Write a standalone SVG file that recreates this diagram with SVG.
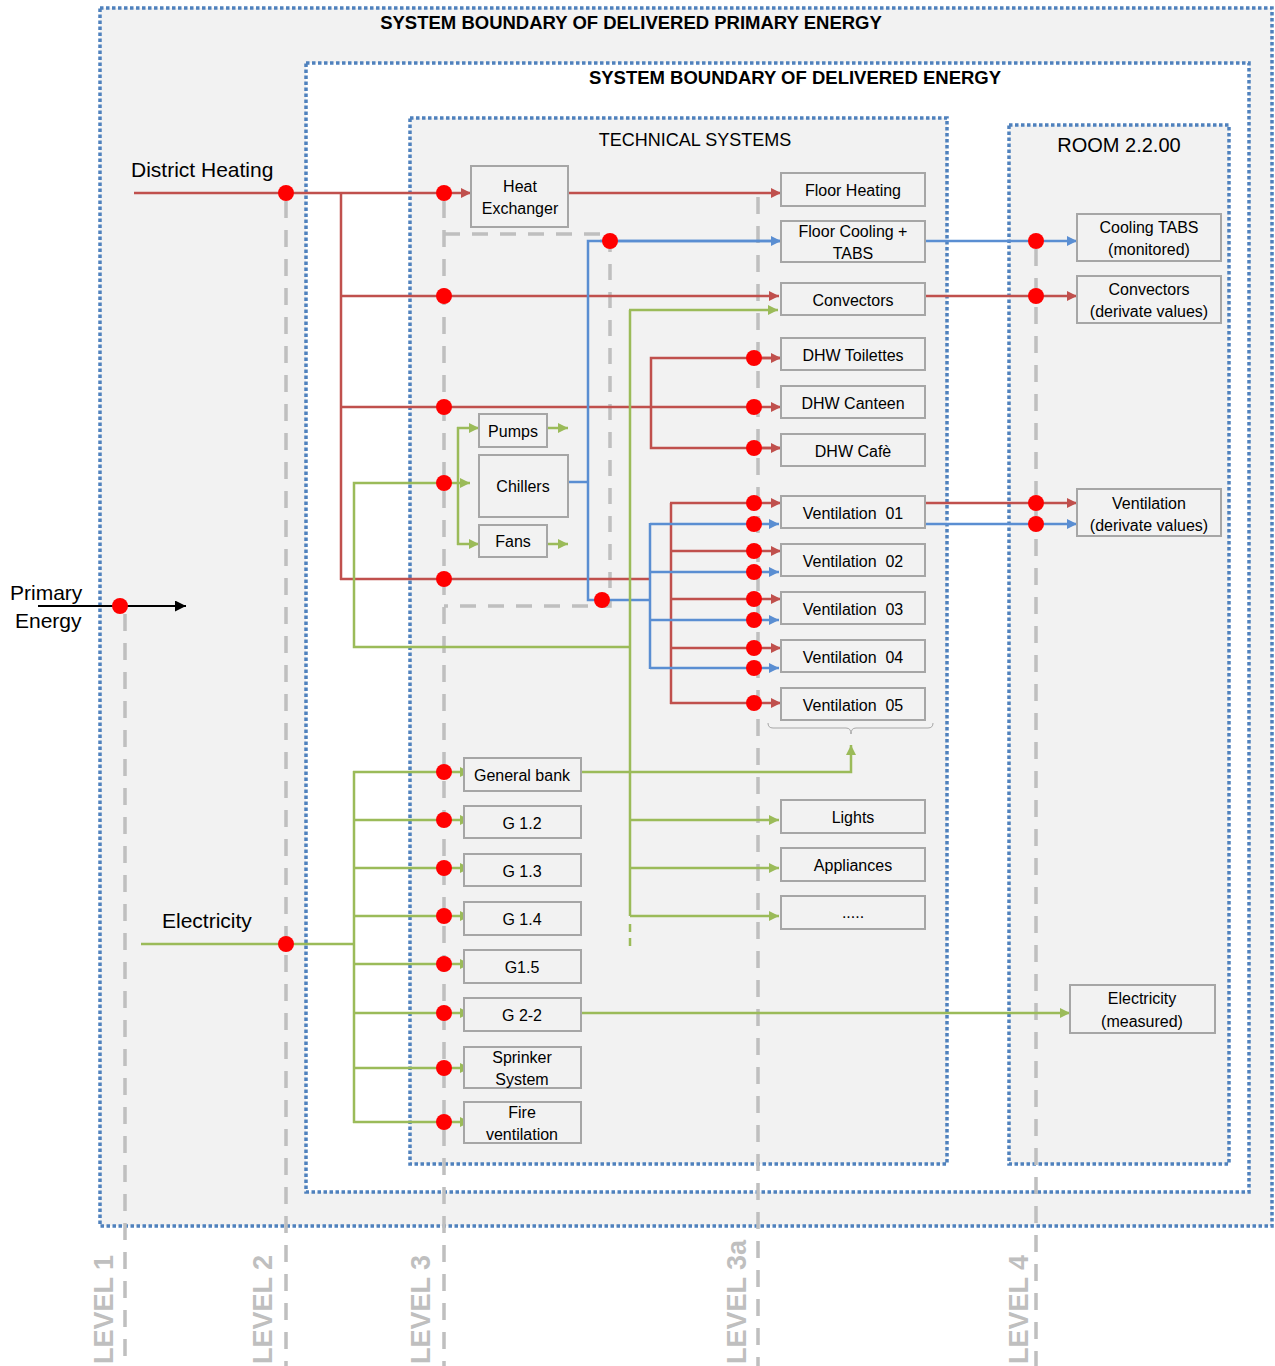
<svg xmlns="http://www.w3.org/2000/svg" width="1275" height="1366" viewBox="0 0 1275 1366">
<style>
.bnd{stroke:#4f81bd;stroke-width:3.5;stroke-dasharray:3.5 2.5}
.lvl{fill:none;stroke:#bfbfbf;stroke-width:3.5;stroke-dasharray:17 12}
.lvlt{font-family:"Liberation Sans",Arial,sans-serif;font-weight:bold;font-size:27px;fill:#bfbfbf}
.node rect{fill:#f2f2f2;stroke:#a6a6a6;stroke-width:2}
.node text,.t{font-family:"Liberation Sans",Arial,sans-serif;font-size:16px;fill:#000;text-anchor:middle}
.big{font-family:"Liberation Sans",Arial,sans-serif;font-size:21px;fill:#000}
.title{font-family:"Liberation Sans",Arial,sans-serif;font-size:18.5px;font-weight:bold;fill:#000;text-anchor:middle}
.r{fill:none;stroke:#c0504d;stroke-width:2.5}
.b{fill:none;stroke:#5a8ed2;stroke-width:2.5}
.g{fill:none;stroke:#9bbb59;stroke-width:2.5}
.ra{marker-end:url(#ar)}
.ba{marker-end:url(#ab)}
.ga{marker-end:url(#ag)}
.dot{fill:#ff0000}
</style>
<defs>
<marker id="ar" viewBox="0 0 10 10" refX="10" refY="5" markerWidth="10" markerHeight="10" markerUnits="userSpaceOnUse" orient="auto"><path d="M0,0 L10,5 L0,10 z" fill="#c0504d"/></marker>
<marker id="ab" viewBox="0 0 10 10" refX="10" refY="5" markerWidth="10" markerHeight="10" markerUnits="userSpaceOnUse" orient="auto"><path d="M0,0 L10,5 L0,10 z" fill="#5a8ed2"/></marker>
<marker id="ag" viewBox="0 0 10 10" refX="10" refY="5" markerWidth="10" markerHeight="10" markerUnits="userSpaceOnUse" orient="auto"><path d="M0,0 L10,5 L0,10 z" fill="#9bbb59"/></marker>
<marker id="ak" viewBox="0 0 10 10" refX="10" refY="5" markerWidth="11" markerHeight="11" markerUnits="userSpaceOnUse" orient="auto"><path d="M0,0 L10,5 L0,10 z" fill="#000"/></marker>
</defs>
<rect width="1275" height="1366" fill="#fff"/>
<!-- boundaries -->
<g id="boundary-primary">
<rect x="100" y="8" width="1172" height="1218" fill="#f2f2f2" class="bnd"/>
<text x="631" y="29" class="title">SYSTEM BOUNDARY OF DELIVERED PRIMARY ENERGY</text>
</g>
<g id="boundary-delivered">
<rect x="306" y="63" width="943" height="1129" fill="#ffffff" class="bnd"/>
<text x="795" y="84" class="title">SYSTEM BOUNDARY OF DELIVERED ENERGY</text>
</g>
<g id="technical-systems">
<rect x="410" y="118" width="537" height="1046" fill="#f2f2f2" class="bnd"/>
<text x="695" y="146" class="t" style="font-size:18px">TECHNICAL SYSTEMS</text>
</g>
<g id="room">
<rect x="1009" y="125" width="220" height="1039" fill="#f2f2f2" class="bnd"/>
<text x="1119" y="152" class="t" style="font-size:20px">ROOM 2.2.00</text>
</g>
<!-- levels -->
<g id="levels">
<line x1="125" y1="614" x2="125" y2="1366" class="lvl"/>
<line x1="286" y1="201" x2="286" y2="1366" class="lvl"/>
<line x1="444" y1="201" x2="444" y2="1366" class="lvl"/>
<line x1="758" y1="197" x2="758" y2="1366" class="lvl"/>
<line x1="1036" y1="249" x2="1036" y2="1366" class="lvl"/>
<path d="M444,234 H610 V606 H444" class="lvl" style="stroke-dasharray:16 12"/>
<text class="lvlt" transform="translate(113,1364) rotate(-90)">LEVEL 1</text>
<text class="lvlt" transform="translate(272,1364) rotate(-90)">LEVEL 2</text>
<text class="lvlt" transform="translate(430,1364) rotate(-90)">LEVEL 3</text>
<text class="lvlt" transform="translate(746,1364) rotate(-90)">LEVEL 3a</text>
<text class="lvlt" transform="translate(1028,1364) rotate(-90)">LEVEL 4</text>
</g>
<!-- labels -->
<g id="labels">
<text x="131" y="177" class="big">District Heating</text>
<text x="162" y="928" class="big">Electricity</text>
<rect x="0" y="578" width="97" height="58" fill="#fff"/>
<text x="10" y="600" class="big">Primary</text>
<text x="15" y="628" class="big">Energy</text>
</g>
<!-- connectors -->
<g id="connectors">
<line x1="38" y1="606" x2="186" y2="606" stroke="#000" stroke-width="2" marker-end="url(#ak)"/>
<!-- red -->
<line x1="134" y1="193" x2="471" y2="193" class="r ra"/>
<line x1="568" y1="193" x2="781" y2="193" class="r ra"/>
<line x1="341" y1="193" x2="341" y2="580" class="r"/>
<line x1="341" y1="296" x2="779" y2="296" class="r ra"/>
<line x1="341" y1="407" x2="781" y2="407" class="r ra"/>
<line x1="340" y1="579" x2="650" y2="579" class="r"/>
<path d="M781,358 H651 V448 H781" class="r"/>
<line x1="760" y1="358" x2="781" y2="358" class="r ra"/>
<line x1="760" y1="448" x2="781" y2="448" class="r ra"/>
<line x1="671" y1="503" x2="671" y2="704" class="r"/>
<line x1="670" y1="503" x2="781" y2="503" class="r ra"/>
<line x1="671" y1="551" x2="781" y2="551" class="r ra"/>
<line x1="671" y1="599" x2="781" y2="599" class="r ra"/>
<line x1="671" y1="648" x2="781" y2="648" class="r ra"/>
<line x1="670" y1="703" x2="781" y2="703" class="r ra"/>
<line x1="925" y1="296" x2="1077" y2="296" class="r ra"/>
<line x1="925" y1="503" x2="1077" y2="503" class="r ra"/>
<!-- blue -->
<path d="M568,482 H588" class="b"/>
<path d="M781,241 H588 V600 H650" class="b"/>
<line x1="600" y1="241" x2="781" y2="241" class="b ba"/>
<line x1="650" y1="523" x2="650" y2="669" class="b"/>
<line x1="650" y1="524" x2="779" y2="524" class="b ba"/>
<line x1="650" y1="572" x2="779" y2="572" class="b ba"/>
<line x1="650" y1="620" x2="779" y2="620" class="b ba"/>
<line x1="650" y1="668" x2="779" y2="668" class="b ba"/>
<line x1="925" y1="241" x2="1077" y2="241" class="b ba"/>
<line x1="925" y1="524" x2="1077" y2="524" class="b ba"/>
<!-- green -->
<path d="M444,483 H354 V647 H630" class="g"/>
<line x1="444" y1="483" x2="470" y2="483" class="g ga"/>
<line x1="630" y1="310" x2="630" y2="916" class="g"/>
<line x1="630" y1="924" x2="630" y2="950" class="g" style="stroke-dasharray:8 6"/>
<line x1="629" y1="310" x2="778" y2="310" class="g ga"/>
<line x1="630" y1="820" x2="779" y2="820" class="g ga"/>
<line x1="630" y1="868" x2="779" y2="868" class="g ga"/>
<line x1="630" y1="916" x2="779" y2="916" class="g ga"/>
<line x1="458" y1="427" x2="458" y2="545" class="g"/>
<line x1="457" y1="428" x2="479" y2="428" class="g ga"/>
<line x1="457" y1="544" x2="479" y2="544" class="g ga"/>
<line x1="547" y1="428" x2="568" y2="428" class="g ga"/>
<line x1="547" y1="544" x2="568" y2="544" class="g ga"/>
<line x1="141" y1="944" x2="354" y2="944" class="g"/>
<line x1="354" y1="771" x2="354" y2="1123" class="g"/>
<line x1="353" y1="772" x2="470" y2="772" class="g ga"/>
<line x1="354" y1="820" x2="470" y2="820" class="g ga"/>
<line x1="354" y1="868" x2="470" y2="868" class="g ga"/>
<line x1="354" y1="916" x2="470" y2="916" class="g ga"/>
<line x1="354" y1="964" x2="470" y2="964" class="g ga"/>
<line x1="354" y1="1013" x2="470" y2="1013" class="g ga"/>
<line x1="354" y1="1068" x2="470" y2="1068" class="g ga"/>
<line x1="353" y1="1122" x2="470" y2="1122" class="g ga"/>
<path d="M581,772 H851 V745" class="g ga"/>
<line x1="581" y1="1013" x2="1070" y2="1013" class="g ga"/>
<path d="M768,723 Q768,728 773,728 H846 Q851,728 851,734 Q851,728 856,728 H928 Q933,728 933,723" fill="none" stroke="#a6a6a6" stroke-width="1"/>
</g>
<!-- nodes -->
<g id="heat-exchanger" class="node"><rect x="471" y="166" width="97" height="61"/><text x="520" y="192">Heat</text><text x="520" y="214">Exchanger</text></g>
<g id="floor-heating" class="node"><rect x="781" y="173" width="144" height="33"/><text x="853" y="196">Floor Heating</text></g>
<g id="floor-cooling" class="node"><rect x="781" y="221" width="144" height="41"/><text x="853" y="237">Floor Cooling +</text><text x="853" y="259">TABS</text></g>
<g id="convectors" class="node"><rect x="781" y="283" width="144" height="32"/><text x="853" y="306">Convectors</text></g>
<g id="dhw-toilettes" class="node"><rect x="781" y="338" width="144" height="32"/><text x="853" y="361">DHW Toilettes</text></g>
<g id="dhw-canteen" class="node"><rect x="781" y="386" width="144" height="32"/><text x="853" y="409">DHW Canteen</text></g>
<g id="dhw-cafe" class="node"><rect x="781" y="434" width="144" height="32"/><text x="853" y="457">DHW Cafè</text></g>
<g id="ventilation-01" class="node"><rect x="781" y="496" width="144" height="32"/><text x="853" y="519" xml:space="preserve">Ventilation  01</text></g>
<g id="ventilation-02" class="node"><rect x="781" y="544" width="144" height="32"/><text x="853" y="567" xml:space="preserve">Ventilation  02</text></g>
<g id="ventilation-03" class="node"><rect x="781" y="592" width="144" height="32"/><text x="853" y="615" xml:space="preserve">Ventilation  03</text></g>
<g id="ventilation-04" class="node"><rect x="781" y="640" width="144" height="32"/><text x="853" y="663" xml:space="preserve">Ventilation  04</text></g>
<g id="ventilation-05" class="node"><rect x="781" y="688" width="144" height="32"/><text x="853" y="711" xml:space="preserve">Ventilation  05</text></g>
<g id="pumps" class="node"><rect x="479" y="414" width="68" height="33"/><text x="513" y="437">Pumps</text></g>
<g id="chillers" class="node"><rect x="479" y="455" width="89" height="62"/><text x="523" y="492">Chillers</text></g>
<g id="fans" class="node"><rect x="479" y="525" width="68" height="32"/><text x="513" y="547">Fans</text></g>
<g id="general-bank" class="node"><rect x="464" y="758" width="117" height="33"/><text x="522" y="781">General bank</text></g>
<g id="g-1-2" class="node"><rect x="464" y="806" width="117" height="32"/><text x="522" y="829">G 1.2</text></g>
<g id="g-1-3" class="node"><rect x="464" y="854" width="117" height="32"/><text x="522" y="877">G 1.3</text></g>
<g id="g-1-4" class="node"><rect x="464" y="902" width="117" height="33"/><text x="522" y="925">G 1.4</text></g>
<g id="g-1-5" class="node"><rect x="464" y="950" width="117" height="33"/><text x="522" y="973">G1.5</text></g>
<g id="g-2-2" class="node"><rect x="464" y="998" width="117" height="33"/><text x="522" y="1021">G 2-2</text></g>
<g id="sprinkler" class="node"><rect x="464" y="1047" width="117" height="41"/><text x="522" y="1063">Sprinker</text><text x="522" y="1085">System</text></g>
<g id="fire-ventilation" class="node"><rect x="464" y="1102" width="117" height="41"/><text x="522" y="1118">Fire</text><text x="522" y="1140">ventilation</text></g>
<g id="lights" class="node"><rect x="781" y="800" width="144" height="33"/><text x="853" y="823">Lights</text></g>
<g id="appliances" class="node"><rect x="781" y="848" width="144" height="33"/><text x="853" y="871">Appliances</text></g>
<g id="etc" class="node"><rect x="781" y="896" width="144" height="33"/><text x="853" y="918">.....</text></g>
<g id="cooling-tabs" class="node"><rect x="1077" y="214" width="144" height="47"/><text x="1149" y="233">Cooling TABS</text><text x="1149" y="255">(monitored)</text></g>
<g id="room-convectors" class="node"><rect x="1077" y="276" width="144" height="47"/><text x="1149" y="295">Convectors</text><text x="1149" y="317">(derivate values)</text></g>
<g id="room-ventilation" class="node"><rect x="1077" y="489" width="144" height="47"/><text x="1149" y="509">Ventilation</text><text x="1149" y="531">(derivate values)</text></g>
<g id="room-electricity" class="node"><rect x="1070" y="985" width="145" height="48"/><text x="1142" y="1004">Electricity</text><text x="1142" y="1027">(measured)</text></g>
<!-- meters -->
<g id="meters" class="dot">
<circle cx="120" cy="606" r="8"/>
<circle cx="286" cy="193" r="8"/><circle cx="444" cy="193" r="8"/>
<circle cx="444" cy="296" r="8"/><circle cx="444" cy="407" r="8"/>
<circle cx="444" cy="483" r="8"/><circle cx="444" cy="579" r="8"/>
<circle cx="610" cy="241" r="8"/><circle cx="602" cy="600" r="8"/>
<circle cx="754" cy="358" r="8"/><circle cx="754" cy="407" r="8"/><circle cx="754" cy="448" r="8"/>
<circle cx="754" cy="503" r="8"/><circle cx="754" cy="524" r="8"/>
<circle cx="754" cy="551" r="8"/><circle cx="754" cy="572" r="8"/>
<circle cx="754" cy="599" r="8"/><circle cx="754" cy="620" r="8"/>
<circle cx="754" cy="648" r="8"/><circle cx="754" cy="668" r="8"/>
<circle cx="754" cy="703" r="8"/>
<circle cx="1036" cy="241" r="8"/><circle cx="1036" cy="296" r="8"/>
<circle cx="1036" cy="503" r="8"/><circle cx="1036" cy="524" r="8"/>
<circle cx="286" cy="944" r="8"/>
<circle cx="444" cy="772" r="8"/><circle cx="444" cy="820" r="8"/><circle cx="444" cy="868" r="8"/>
<circle cx="444" cy="916" r="8"/><circle cx="444" cy="964" r="8"/><circle cx="444" cy="1013" r="8"/>
<circle cx="444" cy="1068" r="8"/><circle cx="444" cy="1122" r="8"/>
</g>
</svg>
